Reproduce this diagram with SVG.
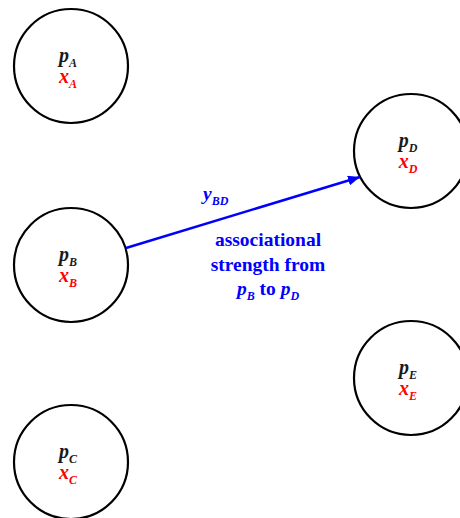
<svg xmlns="http://www.w3.org/2000/svg" width="460" height="518" viewBox="0 0 460 518">
<style>
.node{fill:#fff;stroke:#000;stroke-width:2.2}
.p{font-family:"Liberation Serif",serif;font-weight:bold;font-style:italic;font-size:20px;fill:#1a1a1a}
.x{font-family:"Liberation Serif",serif;font-weight:bold;font-style:italic;font-size:20px;fill:#ff0000}
.sub{font-size:12px}
.lbl{font-family:"Liberation Serif",serif;font-weight:bold;font-size:19.5px;fill:#0000ff}
.it{font-style:italic}
.edge{stroke:#0000ff;stroke-width:2.5;fill:none}
</style>
<defs>
<marker id="ah" viewBox="0 0 12 10" refX="12" refY="5" markerWidth="12" markerHeight="10" markerUnits="userSpaceOnUse" orient="auto">
<path d="M0,0 L12,5 L0,10 z" fill="#0000ff"/>
</marker>
</defs>
<rect width="460" height="518" fill="#fff"/>
<g id="node-A">
<circle class="node" cx="71" cy="66" r="57"/>
<text class="p" x="68" y="62" text-anchor="middle">p<tspan class="sub" dy="5">A</tspan></text>
<text class="x" x="68" y="83" text-anchor="middle">x<tspan class="sub" dy="5">A</tspan></text>
</g>
<g id="node-B">
<circle class="node" cx="71" cy="265" r="57"/>
<text class="p" x="68" y="261" text-anchor="middle">p<tspan class="sub" dy="5">B</tspan></text>
<text class="x" x="68" y="282" text-anchor="middle">x<tspan class="sub" dy="5">B</tspan></text>
</g>
<g id="node-C">
<circle class="node" cx="71" cy="462" r="57"/>
<text class="p" x="68" y="458" text-anchor="middle">p<tspan class="sub" dy="5">C</tspan></text>
<text class="x" x="68" y="479" text-anchor="middle">x<tspan class="sub" dy="5">C</tspan></text>
</g>
<g id="node-D">
<circle class="node" cx="411" cy="151" r="57"/>
<text class="p" x="408" y="147" text-anchor="middle">p<tspan class="sub" dy="5">D</tspan></text>
<text class="x" x="408" y="168" text-anchor="middle">x<tspan class="sub" dy="5">D</tspan></text>
</g>
<g id="node-E">
<circle class="node" cx="411" cy="378" r="57"/>
<text class="p" x="408" y="374" text-anchor="middle">p<tspan class="sub" dy="5">E</tspan></text>
<text class="x" x="408" y="395" text-anchor="middle">x<tspan class="sub" dy="5">E</tspan></text>
</g>
<g id="connectors">
<line class="edge" x1="126" y1="248" x2="360" y2="177" marker-end="url(#ah)"/>
<text class="lbl it" x="203" y="200">y<tspan class="sub" dy="5">BD</tspan></text>
<text class="lbl" x="268" y="246" text-anchor="middle">associational</text>
<text class="lbl" x="268" y="271" text-anchor="middle">strength from</text>
<text class="lbl" x="268" y="295" text-anchor="middle"><tspan class="it">p</tspan><tspan class="it sub" dy="5">B</tspan><tspan dy="-5"> to </tspan><tspan class="it">p</tspan><tspan class="it sub" dy="5">D</tspan></text>
</g>
</svg>
